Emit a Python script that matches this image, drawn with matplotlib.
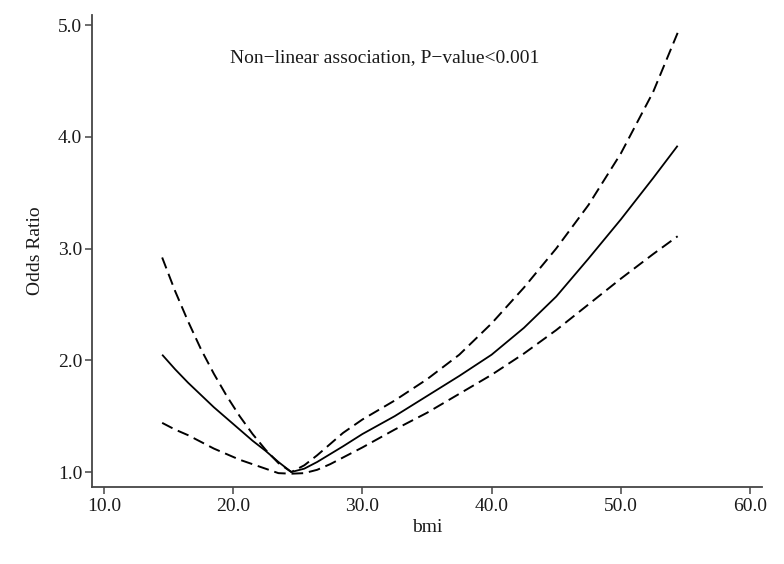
import matplotlib
matplotlib.use("Agg")
import matplotlib.pyplot as plt

plt.rcParams['font.family'] = ['Liberation Serif', 'DejaVu Serif']

# BMI grid
bmi = [14.5, 15.5, 16.5, 17.5, 18.5, 19.5, 20.5, 21.5, 22.5, 23.5, 24.5,
       25.5, 26.5, 27.5, 28.5, 30.0, 32.5, 35.0, 37.5, 40.0, 42.5, 45.0,
       47.5, 50.0, 52.5, 54.4]

# Estimated odds ratio
or_est = [2.05, 1.92, 1.80, 1.69, 1.58, 1.48, 1.38, 1.28, 1.19, 1.09, 1.00,
          1.03, 1.09, 1.16, 1.23, 1.34, 1.50, 1.68, 1.86, 2.05, 2.29, 2.57,
          2.91, 3.26, 3.63, 3.92]

# Upper 95% CI
or_upper = [2.92, 2.62, 2.35, 2.10, 1.88, 1.68, 1.50, 1.34, 1.20, 1.08, 1.00,
            1.06, 1.15, 1.25, 1.35, 1.47, 1.64, 1.83, 2.05, 2.33, 2.65, 3.00,
            3.39, 3.85, 4.40, 4.93]

# Lower 95% CI
or_lower = [1.44, 1.38, 1.33, 1.27, 1.21, 1.16, 1.11, 1.07, 1.03, 0.99, 0.985,
            0.99, 1.02, 1.07, 1.13, 1.22, 1.38, 1.53, 1.70, 1.87, 2.06, 2.27,
            2.50, 2.73, 2.95, 3.11]

x_ticks = [10, 20, 30, 40, 50, 60]
y_ticks = [1, 2, 3, 4, 5]
x_ticklabels = ["10.0", "20.0", "30.0", "40.0", "50.0", "60.0"]
y_ticklabels = ["1.0", "2.0", "3.0", "4.0", "5.0"]

annotation = "Non\u2212linear association, P\u2212value<0.001"

fig = plt.figure(figsize=(7.84, 5.64), dpi=100)
ax = fig.add_axes([92/784, 77/564, 670/784, 472/564])

txt_color = "#1a1a1a"
spine_color = "#454545"

ax.plot(bmi, or_est, color="black", lw=1.3, solid_capstyle="butt",
        solid_joinstyle="round")
ax.plot(bmi, or_upper, color="black", lw=1.4, dashes=(6, 3))
ax.plot(bmi, or_lower, color="black", lw=1.4, dashes=(6, 3))

ax.set_xlim(9.07, 60.93)
ax.set_ylim(0.866, 5.09)

ax.set_xticks(x_ticks)
ax.set_xticklabels(x_ticklabels)
ax.set_yticks(y_ticks)
ax.set_yticklabels(y_ticklabels)

for s in ["top", "right"]:
    ax.spines[s].set_visible(False)
for s in ["left", "bottom"]:
    ax.spines[s].set_color(spine_color)
    ax.spines[s].set_linewidth(1.3)

ax.tick_params(axis="both", direction="out", length=5, width=1.1,
               colors=spine_color, labelcolor=txt_color, labelsize=14)
ax.tick_params(axis="y", pad=2)
ax.tick_params(axis="x", pad=3)

ax.set_xlabel("bmi", fontsize=14, color=txt_color, labelpad=3)
ax.set_ylabel("Odds Ratio", fontsize=14, color=txt_color, labelpad=10)

ax.text(31.7, 4.71, annotation, fontsize=14, color=txt_color,
        ha="center", va="center")

fig.savefig("out.png", dpi=100, facecolor="white")
